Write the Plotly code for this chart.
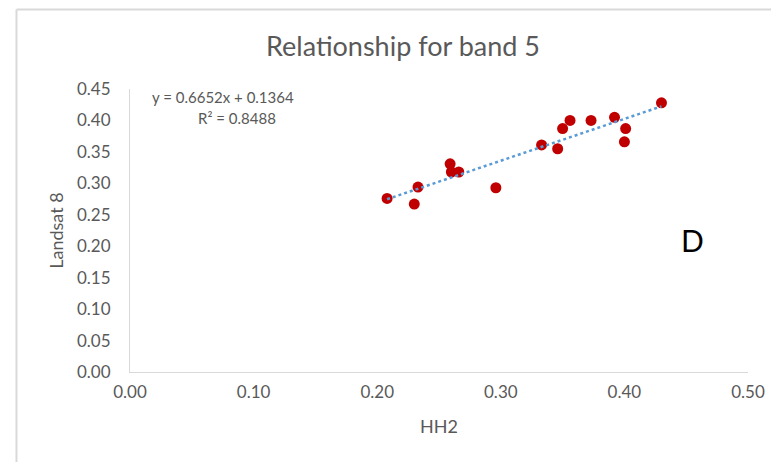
import numpy as np
import plotly.graph_objects as go

# HH2 backscatter vs Landsat 8 band 5 reflectance
hh2 = [0.208, 0.230, 0.233, 0.259, 0.260, 0.266, 0.296, 0.333,
       0.346, 0.350, 0.356, 0.373, 0.392, 0.401, 0.400, 0.430]
landsat8 = [0.276, 0.267, 0.294, 0.331, 0.318, 0.318, 0.293, 0.361,
            0.355, 0.387, 0.400, 0.400, 0.405, 0.387, 0.366, 0.428]

# Linear trendline coefficients
slope = 0.6652
intercept = 0.1364
r_squared = 0.8488

x_ticks = [0.0, 0.1, 0.2, 0.3, 0.4, 0.5]
y_ticks = [0.0, 0.05, 0.10, 0.15, 0.20, 0.25, 0.30, 0.35, 0.40, 0.45]

FONT = "Lato, 'Open Sans', sans-serif"
GREY = "#595959"

trend_x = np.array([min(hh2), max(hh2)])
trend_y = slope * trend_x + intercept

fig = go.Figure()
fig.add_trace(go.Scatter(
    x=hh2, y=landsat8, mode="markers",
    marker=dict(color="#C00000", size=11, line=dict(width=0)),
    showlegend=False, hoverinfo="x+y",
))
fig.add_trace(go.Scatter(
    x=trend_x, y=trend_y, mode="lines",
    line=dict(color="#5B9BD5", width=2.5, dash="dot"),
    showlegend=False, hoverinfo="skip",
))

fig.update_layout(
    width=771, height=462,
    margin=dict(l=130, r=23, t=89, b=90),
    paper_bgcolor="white", plot_bgcolor="white",
    font=dict(family=FONT, color=GREY, size=17),
    title=dict(text="Relationship for band 5", x=403 / 771, xanchor="center",
               y=1 - 47 / 462, yanchor="middle",
               font=dict(size=27, color=GREY, family=FONT)),
    xaxis=dict(
        range=[0, 0.5], tickvals=x_ticks,
        ticktext=[f"{v:.2f}" for v in x_ticks],
        showgrid=False, zeroline=False, automargin=False,
        showline=True, linecolor="#D9D9D9", linewidth=1,
        ticks="outside", ticklen=5, tickcolor="rgba(0,0,0,0)",
        tickfont=dict(size=17, color=GREY),
        title=dict(text="HH2", standoff=18, font=dict(size=18, color=GREY)),
    ),
    yaxis=dict(
        range=[0, 0.45], tickvals=y_ticks,
        ticktext=[f"{v:.2f}" for v in y_ticks],
        showgrid=False, zeroline=False, automargin=False,
        showline=True, linecolor="#D9D9D9", linewidth=1,
        ticks="outside", ticklen=15, tickcolor="rgba(0,0,0,0)",
        tickfont=dict(size=17, color=GREY),
        title=dict(text="Landsat 8", standoff=8, font=dict(size=18, color=GREY)),
    ),
    shapes=[
        # chart frame (left and top edges)
        dict(type="line", xref="paper", yref="paper",
             x0=-0.1837, x1=-0.1837, y0=1.281, y1=-0.33,
             line=dict(color="#D9D9D9", width=2)),
        dict(type="line", xref="paper", yref="paper",
             x0=-0.1837, x1=1.05, y0=1.281, y1=1.281,
             line=dict(color="#D9D9D9", width=2)),
    ],
    annotations=[
        dict(text=f"y = {slope}x + {intercept}", xref="paper", yref="paper",
             x=(223 - 130) / 618, y=(372 - 97) / 283, showarrow=False,
             xanchor="center", yanchor="middle",
             font=dict(size=15, color=GREY, family=FONT)),
        dict(text=f"R² = {r_squared}", xref="paper", yref="paper",
             x=(237 - 130) / 618, y=(372 - 118) / 283, showarrow=False,
             xanchor="center", yanchor="middle",
             font=dict(size=15, color=GREY, family=FONT)),
        dict(text="D", xref="paper", yref="paper",
             x=(692 - 130) / 618, y=(372 - 240) / 283, showarrow=False,
             xanchor="center", yanchor="middle",
             font=dict(size=30, color="black", family=FONT)),
    ],
)

fig.write_html("out.html")
